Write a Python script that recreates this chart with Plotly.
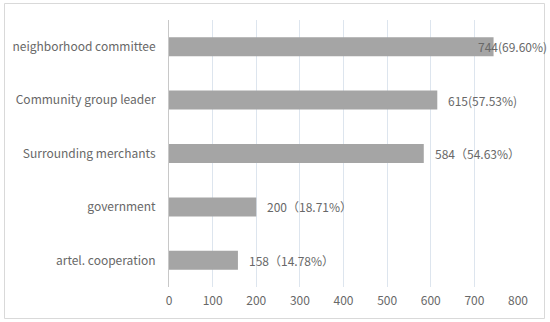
import plotly.graph_objects as go

categories = ["neighborhood committee", "Community group leader", "Surrounding merchants",
              "government", "artel. cooperation"]
values = [744, 615, 584, 200, 158]
labels = ["744(69.60%)", "615(57.53%)", "584（54.63%）", "200（18.71%）", "158（14.78%）"]
x_ticks = [0, 100, 200, 300, 400, 500, 600, 700, 800]

FONT = "Noto Sans CJK SC, Noto Sans, sans-serif"
TXT = "#686868"

fig = go.Figure()
fig.add_trace(go.Bar(
    x=values, y=categories, orientation="h",
    marker=dict(color="#a5a5a5", line=dict(width=0)),
    width=0.355, hoverinfo="skip",
))

vmax = max(values)
for v, c, t in zip(values, categories, labels):
    fig.add_annotation(
        x=v, y=c, xref="x", yref="y", text=t, showarrow=False,
        xanchor="left", yanchor="middle",
        xshift=-18 if v == vmax else 9,
        font=dict(family=FONT, size=12, color=TXT),
    )

L, R, T, B = 169, 518, 20, 287
W, H = 550, 322
pw, ph = R - L, B - T
fig.add_shape(
    type="rect", xref="paper", yref="paper",
    x0=(4.5 - L) / pw, x1=(544.5 - L) / pw,
    y0=(B - 318.5) / ph, y1=(B - 3.5) / ph,
    line=dict(color="#d9d9d9", width=1), fillcolor="rgba(0,0,0,0)", layer="below",
)

fig.update_layout(
    width=W, height=H,
    margin=dict(l=L, r=W - R, t=T, b=H - B, pad=0, autoexpand=False),
    paper_bgcolor="white", plot_bgcolor="white",
    showlegend=False,
    font=dict(family=FONT, size=12, color=TXT),
    xaxis=dict(
        range=[0, 800], tickvals=x_ticks, ticktext=[str(v) for v in x_ticks],
        showgrid=True, gridcolor="#dde5ee", gridwidth=1,
        zeroline=False, showline=False, ticks="", automargin=False,
        tickfont=dict(family=FONT, size=12, color=TXT),
        ticklabelstandoff=5, fixedrange=True,
    ),
    yaxis=dict(
        categoryorder="array", categoryarray=categories, autorange="reversed",
        showgrid=False, zeroline=False, automargin=False,
        showline=True, linecolor="#c8c8c8", linewidth=1, ticks="",
        tickfont=dict(family=FONT, size=12, color=TXT),
        ticklabelstandoff=10, fixedrange=True,
    ),
)

fig.write_html(
    "out.html",
    config={"displayModeBar": False},
    post_script="document.body.style.margin='0';document.body.style.padding='0';",
)
